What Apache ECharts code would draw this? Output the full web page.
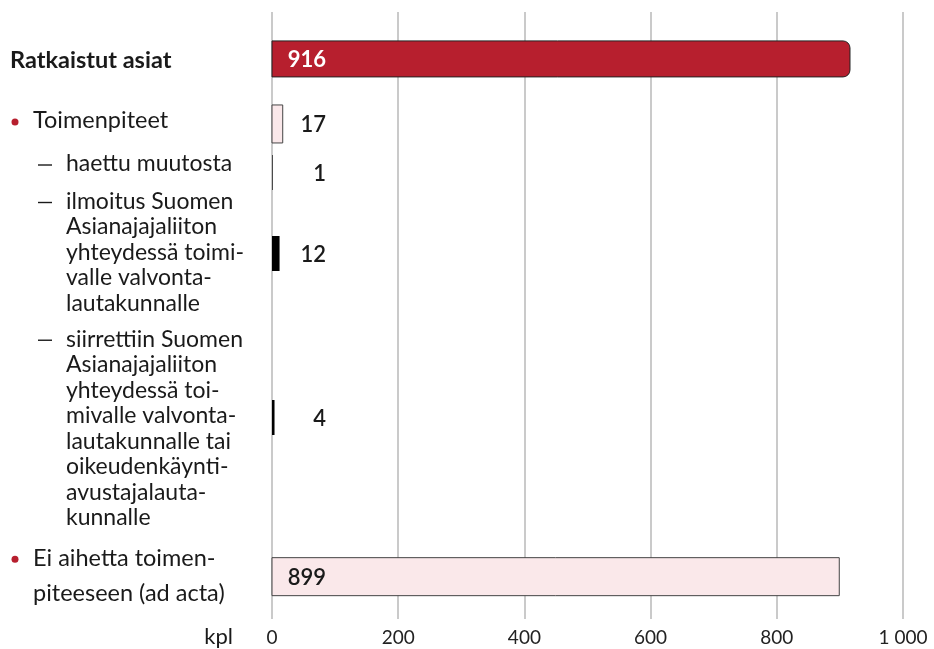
<!DOCTYPE html>
<html><head><meta charset="utf-8">
<script src="https://cdn.jsdelivr.net/npm/echarts@6/dist/echarts.min.js"></script>
<style>html,body{margin:0;padding:0;background:#fff}#c{width:934px;height:649px}</style>
</head><body><div id="c"></div>
<script>
// ---- data ----
const categories = ['Ratkaistut asiat', 'Toimenpiteet', 'haettu muutosta', 'ilmoitus', 'siirrettiin', 'Ei aihetta'];
const labelLines = [
  ['Ratkaistut asiat'],
  ['Toimenpiteet'],
  ['haettu muutosta'],
  ['ilmoitus Suomen', 'Asianajajaliiton', 'yhteydessä toimi-', 'valle valvonta-', 'lautakunnalle'],
  ['siirrettiin Suomen', 'Asianajajaliiton', 'yhteydessä toi-', 'mivalle valvonta-', 'lautakunnalle tai', 'oikeudenkäynti-', 'avustajalauta-', 'kunnalle'],
  ['Ei aihetta toimen-', 'piteeseen (ad acta)']
];
const levels = ['main', 'bullet', 'dash', 'dash', 'dash', 'bullet'];
const values = [916, 17, 1, 12, 4, 899];
const xTicks = [0, 200, 400, 600, 800, 1000];
const xTickLabels = ['0', '200', '400', '600', '800', '1 000'];
const axisUnit = 'kpl';
// ---- layout (row centres in text-line units from top of plot) ----
const barRows = [1.84, 4.39, 6.29, 9.47, 15.90, 22.14];
const labelRows = [1.88, 4.27, 5.96, 9.43, 16.33, 22.1];
const yMax = 23.8;

const RED = '#b71f2e', PINK = '#fae8ea', INK = '#1a1a1a';
const FONT = 'Lato, "Open Sans", sans-serif';

const chart = echarts.init(document.getElementById('c'), null, {renderer: 'canvas'});

function barItem(params, api) {
  const i = params.dataIndex;
  const v = api.value(0), row = api.value(1);
  const p0 = api.coord([0, row]), p1 = api.coord([v, row]);
  const lvl = levels[i];
  const h = lvl === 'dash' ? 35 : (lvl === 'main' ? 36 : 38);
  let style;
  if (lvl === 'main') style = {fill: RED, stroke: '#222', lineWidth: 1};
  else if (lvl === 'bullet') style = {fill: PINK, stroke: '#444', lineWidth: 1};
  else style = {fill: '#000', stroke: null, lineWidth: 0};
  return {
    type: 'group',
    children: [
      {type: 'rect', shape: {x: p0[0], y: p0[1] - h / 2, width: p1[0] - p0[0], height: h, r: lvl === 'main' ? [0, 7, 7, 0] : 0}, style: style},
      {type: 'text', x: p0[0] + 54, y: p0[1] + 1, style: {
        text: String(v), align: 'right', verticalAlign: 'middle',
        fontFamily: FONT, fontSize: 22, fontWeight: lvl === 'main' ? 'bold' : 600,
        fill: lvl === 'main' ? '#fff' : INK }}
    ]
  };
}

function labelItem(params, api) {
  const i = params.dataIndex;
  const row = api.value(1);
  const c = api.coord([0, row]);
  const lines = labelLines[i];
  const lvl = levels[i];
  const lh = lvl === 'bullet' ? 35 : 25.5;
  const firstY = c[1] - (lines.length - 1) * lh / 2;
  const textX = lvl === 'main' ? 10 : (lvl === 'bullet' ? 33 : 66);
  const children = [{
    type: 'text', x: textX, y: c[1],
    style: {text: lines.join('\n'), align: 'left', verticalAlign: 'middle', lineHeight: lh,
      fontFamily: FONT, fontSize: lvl === 'main' ? 23.5 : (lvl === 'bullet' ? 23.5 : 23),
      fontWeight: lvl === 'main' ? 'bold' : 'normal', fill: INK}
  }];
  if (lvl === 'bullet') children.push({type: 'circle', shape: {cx: 15, cy: firstY + 1, r: 3.5}, style: {fill: RED}});
  if (lvl === 'dash') children.push({type: 'line', shape: {x1: 38, y1: firstY + 1, x2: 52, y2: firstY + 1}, style: {stroke: INK, lineWidth: 1.4}});
  return {type: 'group', children: children};
}

chart.setOption({
  animation: false,
  grid: {left: 272, right: 31, top: 12, bottom: 30, containLabel: false},
  xAxis: {
    type: 'value', min: 0, max: 1000, interval: 200,
    axisLine: {show: false}, axisTick: {show: false},
    splitLine: {show: true, lineStyle: {color: '#b8b8b8', width: 1.5}},
    axisLabel: {margin: 9, fontFamily: FONT, fontSize: 19, color: '#222',
      formatter: function (v) { const k = xTicks.indexOf(v); return k >= 0 ? xTickLabels[k] : ''; }}
  },
  yAxis: {type: 'value', inverse: true, min: 0, max: yMax, show: false, splitLine: {show: false}},
  series: [
    {type: 'custom', name: 'bars', renderItem: barItem, clip: false,
      encode: {x: 0, y: 1}, data: values.map((v, i) => [v, barRows[i]])},
    {type: 'custom', name: 'labels', renderItem: labelItem, clip: false, silent: true,
      encode: {x: 0, y: 1}, data: categories.map((c, i) => [0, labelRows[i]])}
  ],
  graphic: [{type: 'text', right: 934 - 233, top: 626, style: {text: axisUnit, fontFamily: FONT, fontSize: 22, fill: INK}}]
});
</script></body></html>
